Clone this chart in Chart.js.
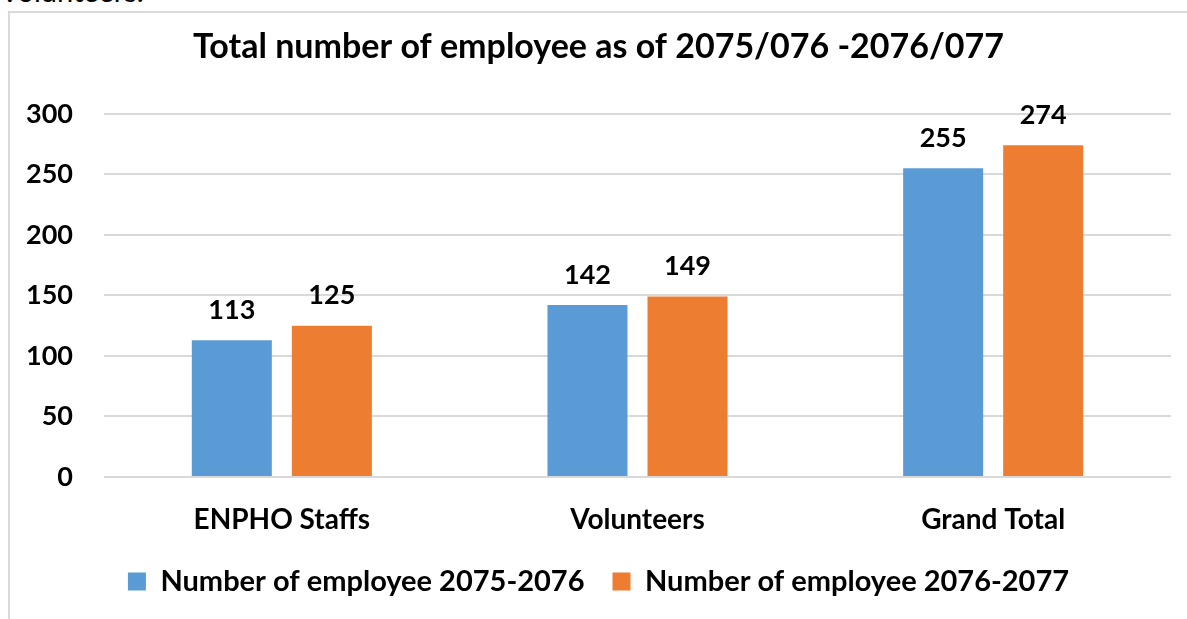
<!DOCTYPE html>
<html>
<head>
<meta charset="utf-8">
<script src="https://cdn.jsdelivr.net/npm/chart.js@4"></script>
<style>
    html, body { margin: 0; padding: 0; background: #fff; overflow: hidden; }
    body { width: 1187px; height: 619px; position: relative; }
    #cut { position: absolute; left: 0; top: -24px; font: 400 29px Lato, sans-serif; color: #000; line-height: 30px; }
    #frame { position: absolute; left: 8px; top: 11px; width: 1200px; height: 640px; border: 2px solid #d9d9d9; box-sizing: border-box; }
    #myChart { position: absolute; left: 0; top: 0; }
</style>
</head>
<body>
<div id="cut">Volunteers.</div>
<div id="frame"></div>
<canvas id="myChart" width="1187" height="619"></canvas>
<script>
// chart data
const categories = ['ENPHO Staffs', 'Volunteers', 'Grand Total'];
const seriesNames = ['Number of employee 2075-2076', 'Number of employee 2076-2077'];
const employees2075 = [113, 142, 255];
const employees2076 = [125, 149, 274];
const yTicks = [0, 50, 100, 150, 200, 250, 300];

const FONT = 'Lato, "Open Sans", sans-serif';

// draws the value above each bar
const barValues = {
    id: 'barValues',
    afterDatasetsDraw(chart) {
        const ctx = chart.ctx;
        ctx.save();
        ctx.font = 'bold 27px ' + FONT;
        ctx.fillStyle = '#000';
        ctx.textAlign = 'center';
        ctx.textBaseline = 'middle';
        chart.data.datasets.forEach((ds, i) => {
            chart.getDatasetMeta(i).data.forEach((bar, j) => {
                ctx.fillText(ds.data[j], bar.x, bar.y - 30);
            });
        });
        ctx.restore();
    }
};

window.addEventListener('DOMContentLoaded', () => {
    const ctx = document.getElementById('myChart').getContext('2d');
    new Chart(ctx, {
        type: 'bar',
        data: {
            labels: categories,
            datasets: [{
                label: seriesNames[0],
                data: employees2075,
                backgroundColor: '#5B9BD5'
            }, {
                label: seriesNames[1],
                data: employees2076,
                backgroundColor: '#ED7D31'
            }]
        },
        options: {
            responsive: false,
            animation: false,
            layout: {
                padding: { left: 26, right: 16, top: 0, bottom: 13 }
            },
            datasets: {
                bar: { barPercentage: 0.8, categoryPercentage: 0.5625 }
            },
            scales: {
                x: {
                    afterFit(scale) { scale.height = 62; },
                    grid: { display: false, drawTicks: false },
                    border: { display: false },
                    ticks: {
                        color: '#000',
                        padding: 26,
                        font: { family: FONT, size: 28, weight: 'bold' }
                    }
                },
                y: {
                    min: 0,
                    max: 300,
                    afterFit(scale) { scale.width = 78; },
                    afterBuildTicks(scale) { scale.ticks = yTicks.map(v => ({ value: v })); },
                    grid: { color: '#d9d9d9', lineWidth: 2, drawTicks: false },
                    border: { display: false },
                    ticks: {
                        color: '#000',
                        padding: 31,
                        font: { family: FONT, size: 27, weight: 'bold' }
                    }
                }
            },
            plugins: {
                title: {
                    display: true,
                    text: 'Total number of employee as of 2075/076 -2076/077',
                    color: '#000',
                    font: { family: FONT, size: 34, weight: 'bold' },
                    padding: { top: 27, bottom: 46 }
                },
                legend: {
                    position: 'bottom',
                    labels: {
                        color: '#000',
                        boxWidth: 18,
                        boxHeight: 18,
                        padding: 28,
                        font: { family: FONT, size: 29, weight: 'bold' }
                    }
                },
                tooltip: { enabled: false }
            }
        },
        plugins: [barValues]
    });
});
</script>
</body>
</html>
